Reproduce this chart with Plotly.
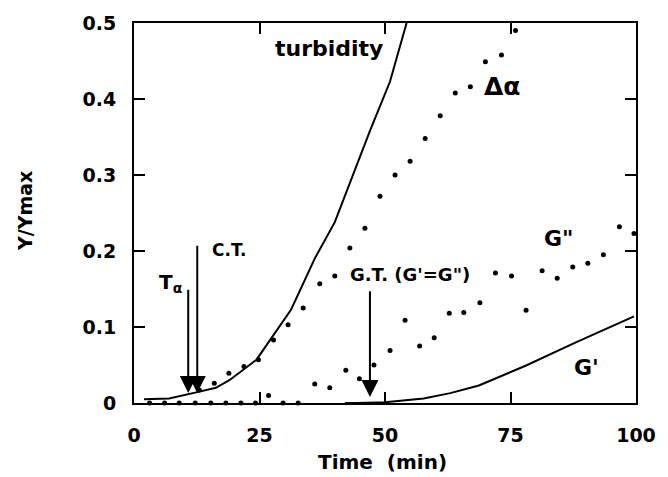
import plotly.graph_objects as go

# ---- data ----
turb_x = [2, 7, 12.4, 16.3, 19, 24.4, 31.3, 36, 40, 47, 51, 54.3]
turb_y = [0.005, 0.006, 0.014, 0.02, 0.03, 0.057, 0.123, 0.19, 0.238, 0.358, 0.423, 0.5]

gp_x = [42, 44.5, 50, 57.7, 63, 68.7, 78, 87.8, 99.6]
gp_y = [0.0, 0.0, 0.001, 0.006, 0.013, 0.023, 0.049, 0.079, 0.114]

da_x = [13, 16, 18.9, 21.9, 24.8, 27.8, 30.7, 33.7, 37, 40, 43, 46, 49, 52, 55, 58, 61, 64, 67, 70, 73.2, 76]
da_y = [0.017, 0.026, 0.039, 0.048, 0.057, 0.083, 0.103, 0.125, 0.157, 0.167, 0.204, 0.23,
        0.272, 0.3, 0.318, 0.348, 0.378, 0.408, 0.416, 0.449, 0.458, 0.49]

gpp_x = [3.1, 6.1, 9, 12.2, 15.3, 18.3, 21.3, 24.2, 26.8, 29.7, 32.7, 36, 39, 42.2, 44.9, 47.8,
         51, 54, 56.9, 59.8, 62.8, 65.7, 68.9, 72, 75.2, 78.1, 81.3, 84.3, 87.4, 90.4, 93.5, 96.7, 99.6]
gpp_y = [0, 0, 0, 0, 0, 0, 0, 0, 0.01, 0, 0, 0.025, 0.02, 0.043, 0.032, 0.05,
         0.069, 0.109, 0.075, 0.086, 0.118, 0.119, 0.132, 0.171, 0.167, 0.122, 0.174, 0.164,
         0.179, 0.184, 0.195, 0.232, 0.223]

x_ticks = [0, 25, 50, 75, 100]
x_ticktext = ["0", "25", "50", "75", "100"]
y_ticks = [0, 0.1, 0.2, 0.3, 0.4, 0.5]
y_ticktext = ["0", "0.1", "0.2", "0.3", "0.4", "0.5"]

# arrows: (tip_x, tip_y, tail_y)
arrows = [(10.8, 0.013, 0.151), (12.6, 0.013, 0.209), (47.0, 0.008, 0.149)]

FONT = "DejaVu Sans"

fig = go.Figure()
fig.add_trace(go.Scatter(x=turb_x, y=turb_y, mode="lines", line=dict(color="black", width=2),
                         showlegend=False, cliponaxis=True))
fig.add_trace(go.Scatter(x=gp_x, y=gp_y, mode="lines", line=dict(color="black", width=2),
                         showlegend=False))
fig.add_trace(go.Scatter(x=da_x, y=da_y, mode="markers", marker=dict(color="black", size=5),
                         showlegend=False, cliponaxis=False))
fig.add_trace(go.Scatter(x=gpp_x, y=gpp_y, mode="markers", marker=dict(color="black", size=5),
                         showlegend=False, cliponaxis=False))

for (tx, ty, tail) in arrows:
    fig.add_annotation(x=tx, y=ty, ax=tx, ay=tail, xref="x", yref="y", axref="x", ayref="y",
                       text="", showarrow=True, arrowhead=2, arrowsize=1.7, arrowwidth=2,
                       arrowcolor="black", standoff=0)

labels = [
    ("turbidity", 38.8, 0.466, 22),
    ("Δα", 73.4, 0.417, 25),
    ('G"', 84.6, 0.216, 22),
    ("G'", 90.2, 0.047, 22),
    ("C.T.", 19.0, 0.201, 17),
    ("T<sub>α</sub>", 7.3, 0.158, 20),
    ("G.T. (G'=G\")", 54.9, 0.169, 18),
]
for txt, lx, ly, sz in labels:
    fig.add_annotation(x=lx, y=ly, xref="x", yref="y", text=txt, showarrow=False,
                       xanchor="center", yanchor="middle",
                       font=dict(family=FONT, size=sz, color="black", weight="bold"))

fig.add_annotation(x=-0.216, y=0.504, xref="paper", yref="paper", text="Y/Ymax", textangle=-90,
                   xanchor="center", yanchor="middle", showarrow=False,
                   font=dict(family=FONT, size=19, color="black", weight="bold"))
fig.add_annotation(x=0.495, y=-0.156, xref="paper", yref="paper", text="Time  (min)",
                   xanchor="center", yanchor="middle", showarrow=False,
                   font=dict(family=FONT, size=20, color="black", weight="bold"))

axis_common = dict(showgrid=False, zeroline=False, showline=True, linecolor="black", linewidth=2,
                   mirror="ticks", ticks="inside", ticklen=11, tickwidth=2, tickcolor="black",
                   tickfont=dict(family=FONT, size=19, color="black", weight="bold"))
fig.update_xaxes(range=[0, 100], tickvals=x_ticks, ticktext=x_ticktext, ticklabelstandoff=14,
                 **axis_common)
fig.update_yaxes(range=[0, 0.5], tickvals=y_ticks, ticktext=y_ticktext, ticklabelstandoff=12,
                 **axis_common)

fig.update_layout(width=668, height=477, margin=dict(l=134, r=25, t=18, b=74),
                  plot_bgcolor="white", paper_bgcolor="white")

fig.write_html("out.html")
